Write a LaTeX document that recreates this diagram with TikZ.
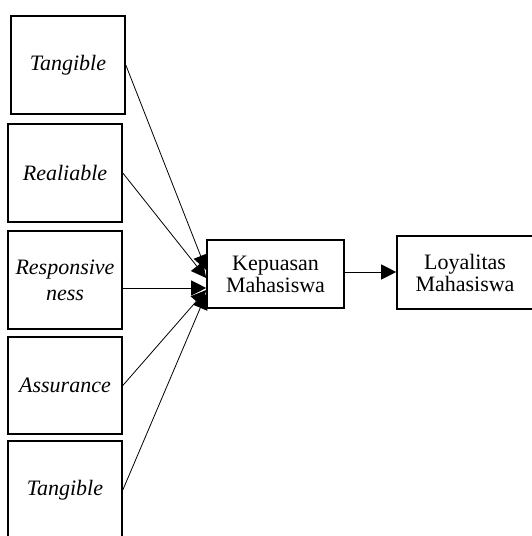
\documentclass[tikz,border=0pt]{standalone}
\usepackage{fontspec}
\setmainfont{Liberation Serif}
\usepackage{tikz}
\usetikzlibrary{positioning, arrows.meta, calc}

\begin{document}
\begin{tikzpicture}[
        x=1pt, y=-1pt,
        dimbox/.style={draw, rectangle, line width=1.6pt, minimum width=114pt, minimum height=98pt, align=center, inner sep=0pt, font=\fontsize{22}{26}\selectfont\itshape},
        varbox/.style={draw, rectangle, line width=1.6pt, minimum width=137pt, minimum height=68pt, align=center, inner sep=0pt, font=\fontsize{22}{22}\selectfont},
        arr/.style={-{Triangle[length=15pt, width=15pt]}, line width=0.8pt}
    ]
    \useasboundingbox (0,0) rectangle (532,536);

    \node[dimbox] (tangible) at (68, 65) {Tangible};
    \node[dimbox] (reliable) at (65, 173) {Realiable};
    \node[dimbox] (responsive) at (65, 280) {Responsive\\ness};
    \node[dimbox, minimum height=97pt] (assurance) at (65, 385.5) {Assurance};
    \node[dimbox] (tangibletwo) at (65, 490) {Tangible};

    \node[varbox] (kepuasan) at (275.5, 274) {Kepuasan\\Mahasiswa};
    \node[varbox, minimum width=136pt, minimum height=73pt] (loyalitas) at (465, 272.5) {Loyalitas\\Mahasiswa};

    \draw[arr] (tangible.east) -- ($(kepuasan.west)+(0,-4)$);
    \draw[arr] (reliable.east) -- ($(kepuasan.west)+(0,4)$);
    \draw[arr] (responsive.east |- 0,288) -- (kepuasan.west |- 0,288);
    \draw[arr] (assurance.east) -- ($(kepuasan.west)+(0,16)$);
    \draw[arr] (tangibletwo.east) -- ($(kepuasan.west)+(0,20)$);

    \draw[arr] (kepuasan.east |- 0,272) -- (loyalitas.west |- 0,272);

    \end{tikzpicture}
\end{document}
